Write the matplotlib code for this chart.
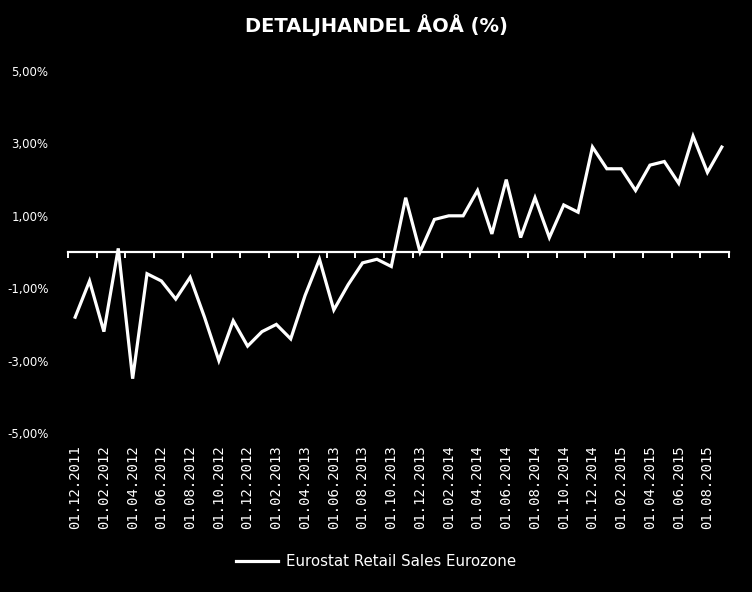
import matplotlib
matplotlib.use("Agg")
import matplotlib.pyplot as plt
import numpy as np
import pandas as pd

# monthly dates, Dec 2011 - Sep 2015
dates = pd.date_range("2011-12-01", "2015-09-01", freq="MS")
labels = [d.strftime("%d.%m.%Y") for d in dates]

# Eurostat retail sales, eurozone, y/y in %
retail = [-1.8, -0.8, -2.2, 0.1, -3.5, -0.6, -0.8, -1.3, -0.7, -1.8,
          -3.0, -1.9, -2.6, -2.2, -2.0, -2.4, -1.2, -0.2, -1.6, -0.9,
          -0.3, -0.2, -0.4, 1.5, 0.0, 0.9, 1.0, 1.0, 1.7, 0.5,
          2.0, 0.4, 1.5, 0.4, 1.3, 1.1, 2.9, 2.3, 2.3, 1.7,
          2.4, 2.5, 1.9, 3.2, 2.2, 2.9]

yticks = [-5, -3, -1, 1, 3, 5]

x = np.arange(len(retail))

fig = plt.figure(figsize=(7.52, 5.92), dpi=100, facecolor="black")
ax = fig.add_axes([0.0904, 0.2686, 0.879, 0.6114], facecolor="black")

ax.plot(x, retail, color="white", lw=2.3, solid_joinstyle="miter",
        label="Eurostat Retail Sales Eurozone")

ax.set_xlim(-0.5, len(retail) - 0.5)
ax.set_ylim(-5, 5)

# y axis
ax.set_yticks(yticks)
ax.set_yticklabels([f"{v:.2f}".replace(".", ",") + "%" for v in yticks])
ax.tick_params(axis="y", length=0, pad=14, labelsize=8.5, labelcolor="white")
for s in ["left", "right", "top"]:
    ax.spines[s].set_visible(False)

# category axis crossing at zero
ax.spines["bottom"].set_position(("data", 0))
ax.spines["bottom"].set_color("white")
ax.spines["bottom"].set_linewidth(1.6)
ax.set_xticks(np.arange(-0.5, len(retail), 2))
ax.tick_params(axis="x", direction="out", length=4, width=1.4, color="white",
               labelbottom=False)

# labels at the bottom of the plot area
sec = ax.secondary_xaxis(0)
sec.set_xticks(x[::2])
sec.set_xticklabels(labels[::2], rotation=90, family="DejaVu Sans Mono",
                    fontsize=10, color="white")
sec.tick_params(length=0, pad=9)
sec.spines["bottom"].set_visible(False)

fig.text(0.5, 0.958, "DETALJHANDEL ÅOÅ (%)", ha="center", va="center",
         color="white", fontsize=14, fontweight="bold")

leg = fig.legend(loc="center", bbox_to_anchor=(0.5, 0.051), frameon=False,
                 fontsize=10.8, handlelength=2.8, handletextpad=0.5)
for t in leg.get_texts():
    t.set_color("white")

fig.savefig("out.png", dpi=100, facecolor="black")
